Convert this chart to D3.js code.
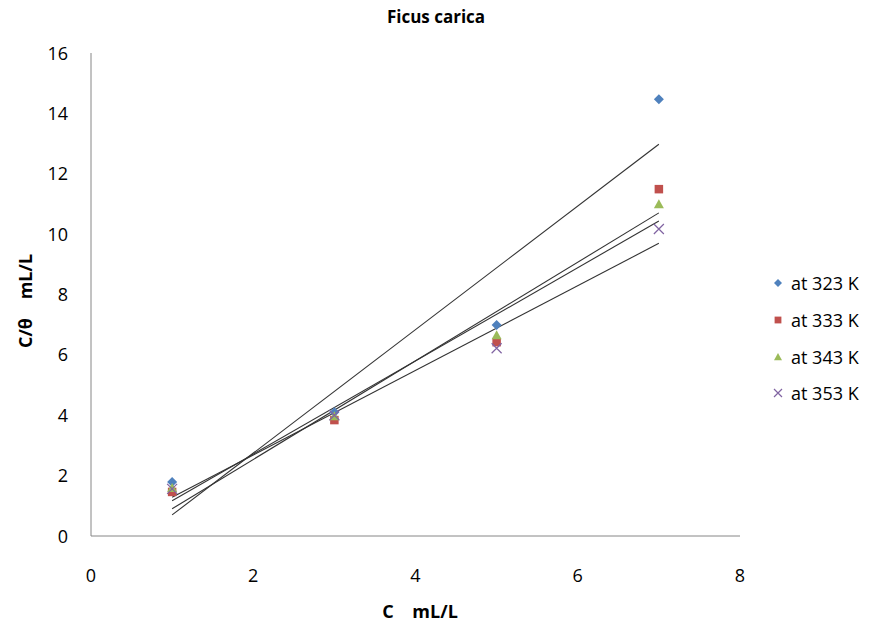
<!DOCTYPE html>
<html>
<head>
<meta charset="utf-8">
<script src="https://cdn.jsdelivr.net/npm/d3@7"></script>
<style>
  body { margin: 0; background: #fff; }
  text { font-family: "Open Sans", "Liberation Sans", sans-serif; }
</style>
</head>
<body>
<div id="chart"></div>
<script>
var concentrations = [1, 3, 5, 7];
var seriesNames = ["at 323 K", "at 333 K", "at 343 K", "at 353 K"];
var values323 = [1.79, 4.1, 6.99, 14.47];
var values333 = [1.46, 3.84, 6.42, 11.49];
var values343 = [1.59, 3.97, 6.65, 10.99];
var values353 = [1.56, 4.0, 6.22, 10.17];
var xTicks = [0, 2, 4, 6, 8];
var yTicks = [0, 2, 4, 6, 8, 10, 12, 14, 16];

var w = 874, h = 628;
var colors = ["#4F81BD", "#C0504D", "#9BBB59", "#8064A2"];
var allValues = [values323, values333, values343, values353];

var svg = d3.select("#chart").append("svg")
  .attr("width", w).attr("height", h);

var x = d3.scaleLinear().domain([0, 8]).range([91, 740]);
var y = d3.scaleLinear().domain([0, 16]).range([536, 53]);

// marker shapes like Excel: diamond, square, triangle, x
function marker(g, s, size, color) {
  var r = size / 2;
  if (s == 0) {
    g.append("path").attr("d", "M0," + (-r) + "L" + r + ",0L0," + r + "L" + (-r) + ",0Z").attr("fill", color);
  } else if (s == 1) {
    g.append("rect").attr("x", -r * 0.85).attr("y", -r * 0.85)
      .attr("width", r * 1.7).attr("height", r * 1.7).attr("fill", color);
  } else if (s == 2) {
    g.append("path").attr("d", "M0," + (-r) + "L" + r + "," + (r * 0.8) + "L" + (-r) + "," + (r * 0.8) + "Z").attr("fill", color);
  } else {
    g.append("path").attr("d", "M" + (-r) + "," + (-r) + "L" + r + "," + r + "M" + r + "," + (-r) + "L" + (-r) + "," + r)
      .attr("stroke", color).attr("stroke-width", 1.2).attr("fill", "none");
  }
}

// axes: plain grey lines, no tick marks
svg.append("line")
  .attr("x1", x(0)).attr("x2", x(0)).attr("y1", y(16)).attr("y2", y(0))
  .attr("stroke", "#868686").attr("stroke-width", 1);
svg.append("line")
  .attr("x1", x(0)).attr("x2", x(8)).attr("y1", y(0)).attr("y2", y(0))
  .attr("stroke", "#868686").attr("stroke-width", 1);

svg.selectAll(".ytick").data(yTicks).enter().append("text")
  .attr("class", "ytick")
  .attr("x", 68).attr("y", function(d) { return y(d) + 6.5; })
  .attr("text-anchor", "end").attr("font-size", 18).attr("fill", "#000")
  .text(function(d) { return d; });

svg.selectAll(".xtick").data(xTicks).enter().append("text")
  .attr("class", "xtick")
  .attr("x", function(d) { return x(d); }).attr("y", 582)
  .attr("text-anchor", "middle").attr("font-size", 18).attr("fill", "#000")
  .text(function(d) { return d; });

// linear trend lines (least squares)
function fit(xs, ys) {
  var mx = d3.mean(xs), my = d3.mean(ys);
  var num = d3.sum(xs, function(v, i) { return (v - mx) * (ys[i] - my); });
  var den = d3.sum(xs, function(v) { return (v - mx) * (v - mx); });
  var b = num / den;
  return { a: my - b * mx, b: b };
}

var x0 = d3.min(concentrations), x1 = d3.max(concentrations);
allValues.forEach(function(vals) {
  var f = fit(concentrations, vals);
  svg.append("line")
    .attr("x1", x(x0)).attr("y1", y(f.a + f.b * x0))
    .attr("x2", x(x1)).attr("y2", y(f.a + f.b * x1))
    .attr("stroke", "#333").attr("stroke-width", 1.1);
});

// markers
allValues.forEach(function(vals, s) {
  vals.forEach(function(d, i) {
    var g = svg.append("g")
      .attr("transform", "translate(" + x(concentrations[i]) + "," + y(d) + ")");
    marker(g, s, 10, colors[s]);
  });
});

// title
svg.append("text")
  .attr("x", 436).attr("y", 23).attr("text-anchor", "middle")
  .attr("font-size", 17).attr("font-weight", "bold").attr("fill", "#000")
  .text("Ficus carica");

// axis titles
svg.append("text")
  .attr("x", 420).attr("y", 618).attr("text-anchor", "middle")
  .attr("font-size", 18).attr("font-weight", "bold").attr("fill", "#000")
  .attr("xml:space", "preserve")
  .text("C    mL/L");

svg.append("text")
  .attr("transform", "translate(32,301) rotate(-90)")
  .attr("text-anchor", "middle")
  .attr("font-size", 18).attr("font-weight", "bold").attr("fill", "#000")
  .attr("xml:space", "preserve")
  .text("C/\u03b8    mL/L");

// legend
var legendY = [283, 320, 357, 393];
seriesNames.forEach(function(name, s) {
  var g = svg.append("g").attr("transform", "translate(778," + legendY[s] + ")");
  marker(g, s, 8, colors[s]);
  svg.append("text")
    .attr("x", 791).attr("y", legendY[s] + 6.5)
    .attr("font-size", 18).attr("fill", "#000")
    .text(name);
});
</script>
</body>
</html>
